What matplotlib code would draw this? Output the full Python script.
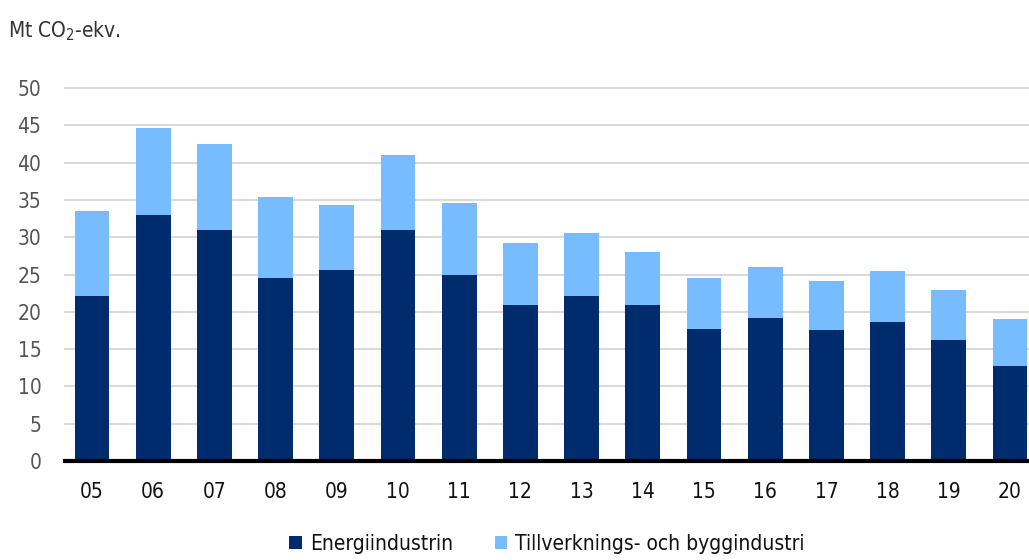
import numpy as np
import matplotlib
matplotlib.use("Agg")
import matplotlib.pyplot as plt

# Utsläpp per år (Mt CO2-ekv.)
years = ["05", "06", "07", "08", "09", "10", "11", "12",
         "13", "14", "15", "16", "17", "18", "19", "20"]
energi = [22.1, 33.0, 31.0, 24.5, 25.6, 31.0, 24.9, 20.9,
          22.1, 20.9, 17.7, 19.2, 17.6, 18.6, 16.2, 12.7]
totalt = [33.5, 44.6, 42.5, 35.4, 34.3, 41.0, 34.6, 29.2,
          30.6, 28.0, 24.5, 26.0, 24.1, 25.5, 22.9, 19.0]
tillverkning = [t - e for t, e in zip(totalt, energi)]

DARK = "#002B6C"
LIGHT = "#77BCFF"

plt.rcParams["font.family"] = ["DejaVu Sans"]
plt.rcParams["font.stretch"] = "condensed"
plt.rcParams["mathtext.fontset"] = "dejavusans"

fig = plt.figure(figsize=(10.29, 5.6), dpi=100)
ax = fig.add_axes([0.0632, 0.1768, 0.9368, 0.666])

x = np.arange(len(years))
w = 0.57
ax.bar(x, energi, w, color=DARK, label="Energiindustrin", zorder=3)
ax.bar(x, tillverkning, w, bottom=energi, color=LIGHT,
       label="Tillverknings- och byggindustri", zorder=3)

ax.set_xlim(-0.44, len(years) - 0.69)
ax.set_ylim(0, 50)
ax.set_yticks(np.arange(0, 51, 5))
ax.set_xticks(x)
ax.set_xticklabels(years)
ax.tick_params(axis="both", length=0, labelsize=15)
ax.tick_params(axis="y", pad=17, colors="#555555")
ax.tick_params(axis="x", pad=15, colors="#111111")
ax.grid(axis="y", color="#d9d9d9", linewidth=1.5, zorder=0)
for gl in ax.get_ygridlines():
    gl.set_clip_on(False)
for side in ["top", "right", "left"]:
    ax.spines[side].set_visible(False)
ax.spines["bottom"].set_color("black")
ax.spines["bottom"].set_linewidth(3)
ax.spines["bottom"].set_zorder(4)

fig.text(0.008, 0.945, "Mt CO$_2$-ekv.", fontsize=15, color="#333333",
         va="center", ha="left")

leg = ax.legend(loc="center", bbox_to_anchor=(0.5, -0.222), ncol=2,
                frameon=False, fontsize=15, handlelength=0.6,
                handleheight=0.6, columnspacing=2.0, handletextpad=0.4,
                borderaxespad=0, borderpad=0)
for t in leg.get_texts():
    t.set_color("#111111")

fig.savefig("out.png", dpi=100)
